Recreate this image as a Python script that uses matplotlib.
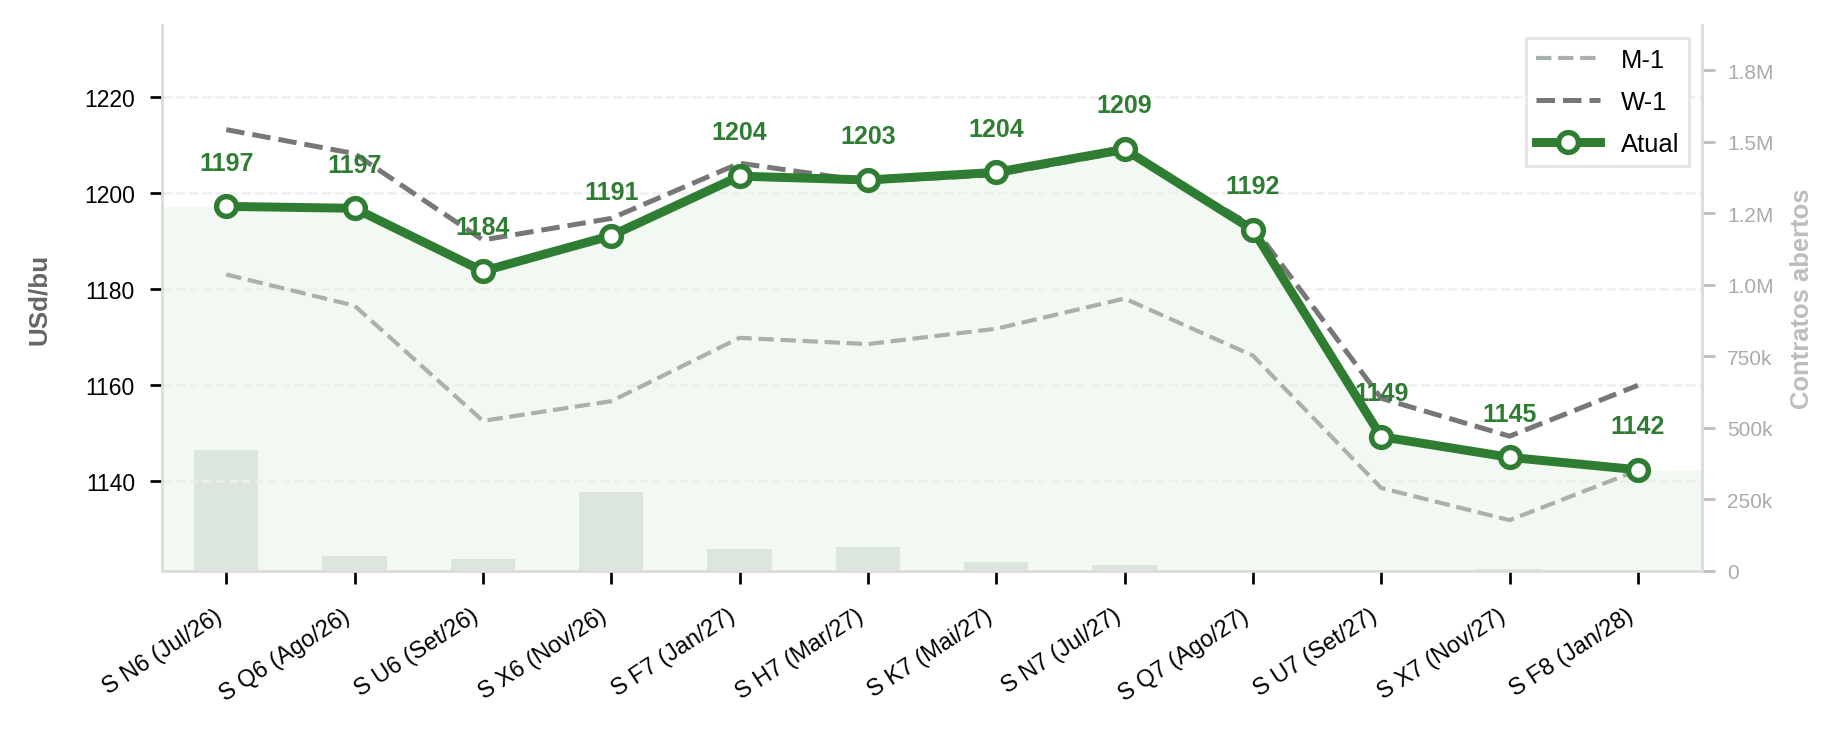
import matplotlib.pyplot as plt
import numpy as np
from matplotlib.ticker import FuncFormatter, MultipleLocator

plt.rcParams['font.family'] = ['Liberation Sans', 'DejaVu Sans']

# contracts
contracts = ["S N6 (Jul/26)", "S Q6 (Ago/26)", "S U6 (Set/26)", "S X6 (Nov/26)",
             "S F7 (Jan/27)", "S H7 (Mar/27)", "S K7 (Mai/27)", "S N7 (Jul/27)",
             "S Q7 (Ago/27)", "S U7 (Set/27)", "S X7 (Nov/27)", "S F8 (Jan/28)"]

# prices (USd/bu)
atual = [1197.3, 1196.9, 1183.8, 1191.2, 1203.6, 1202.8, 1204.4, 1209.2, 1192.4, 1149.3, 1145.0, 1142.4]
w1 = [1213.3, 1208.3, 1190.3, 1194.8, 1206.3, 1202.5, 1203.9, 1208.8, 1193.2, 1157.3, 1149.4, 1160.0]
m1 = [1183.1, 1176.6, 1152.6, 1156.7, 1169.9, 1168.6, 1171.8, 1178.1, 1166.2, 1138.6, 1131.9, 1142.3]

# open interest
open_int = [424000, 54000, 41000, 276000, 78000, 83000, 33000, 21000, 2000, 2000, 8000, 2000]

x = np.arange(len(contracts))
green = '#2e7d32'

fig = plt.figure(figsize=(12.307, 4.893), dpi=150)
ax = fig.add_axes([0.0878, 0.2207, 0.8342, 0.7439])
ax2 = ax.twinx()
ax.set_zorder(ax2.get_zorder() + 1)
ax.patch.set_visible(False)

# open interest bars on the secondary axis
ax2.bar(x, open_int, width=0.5, color='#e9ebe9', zorder=1)
ax2.set_ylim(0, max(open_int) * 4.5)
ax2.yaxis.set_major_locator(MultipleLocator(250000))

def fmt_oi(v, pos):
    if v >= 1e6:
        return f"{v/1e6:.1f}M"
    if v == 0:
        return "0"
    return f"{v/1e3:.0f}k"

ax2.yaxis.set_major_formatter(FuncFormatter(fmt_oi))
ax2.tick_params(axis='y', colors='#bbbbbb', labelcolor='#aaaaaa', labelsize=10,
                length=6, width=1.3, pad=6)
ax2.set_ylabel("Contratos abertos", color='#bdbdbd', fontsize=12.3,
               fontweight='bold', labelpad=8)

# shaded area under the current curve
xf = np.concatenate([[-0.5], x, [len(x) - 0.5]])
yf = np.concatenate([[atual[0]], atual, [atual[-1]]])
ax.fill_between(xf, yf, 1100, color='#4caf50', alpha=0.07, linewidth=0, zorder=1)

ax.plot(x, m1, color='#aab0aa', linestyle='--', linewidth=2.0, label='M-1', zorder=2)
ax.plot(x, w1, color='#777777', linestyle='--', linewidth=2.4, label='W-1', zorder=3)
ax.plot(x, atual, color=green, linewidth=4.3, marker='o', markersize=9.5,
        markerfacecolor='white', markeredgecolor=green, markeredgewidth=2.6,
        label='Atual', zorder=4)

for xi, v in zip(x, atual):
    ax.annotate(f"{v:.0f}", (xi, v), xytext=(0, 21), textcoords='offset points',
                ha='center', va='center', color=green, fontsize=12,
                fontweight='bold', zorder=5)

ax.set_xlim(-0.5, len(x) - 0.5)
ax.set_ylim(1121.3, 1235.1)
ax.yaxis.set_major_locator(MultipleLocator(20))
ax.set_xticks(x)
ax.set_xticklabels(contracts, rotation=33, ha='right', fontsize=11.3)
ax.tick_params(axis='y', labelsize=11, length=6, width=1.3, pad=7)
ax.tick_params(axis='x', length=6, width=1.3, pad=10)
ax.set_ylabel("USd/bu", color='#666666', fontsize=12.5, fontweight='bold', labelpad=16)
ax.grid(axis='y', color='#eeeeee', linestyle='--', linewidth=1.2)

for a in (ax, ax2):
    a.spines['top'].set_visible(False)
    for s in ('left', 'right', 'bottom'):
        a.spines[s].set_color('#dddddd')
        a.spines[s].set_linewidth(1.3)

leg = ax.legend(loc='upper right', fontsize=12.3, fancybox=False, framealpha=1,
                edgecolor='#e6e6e6', handlelength=2.5, labelspacing=0.7)
leg.get_frame().set_linewidth(1.4)

fig.savefig("out.png", dpi=150)
